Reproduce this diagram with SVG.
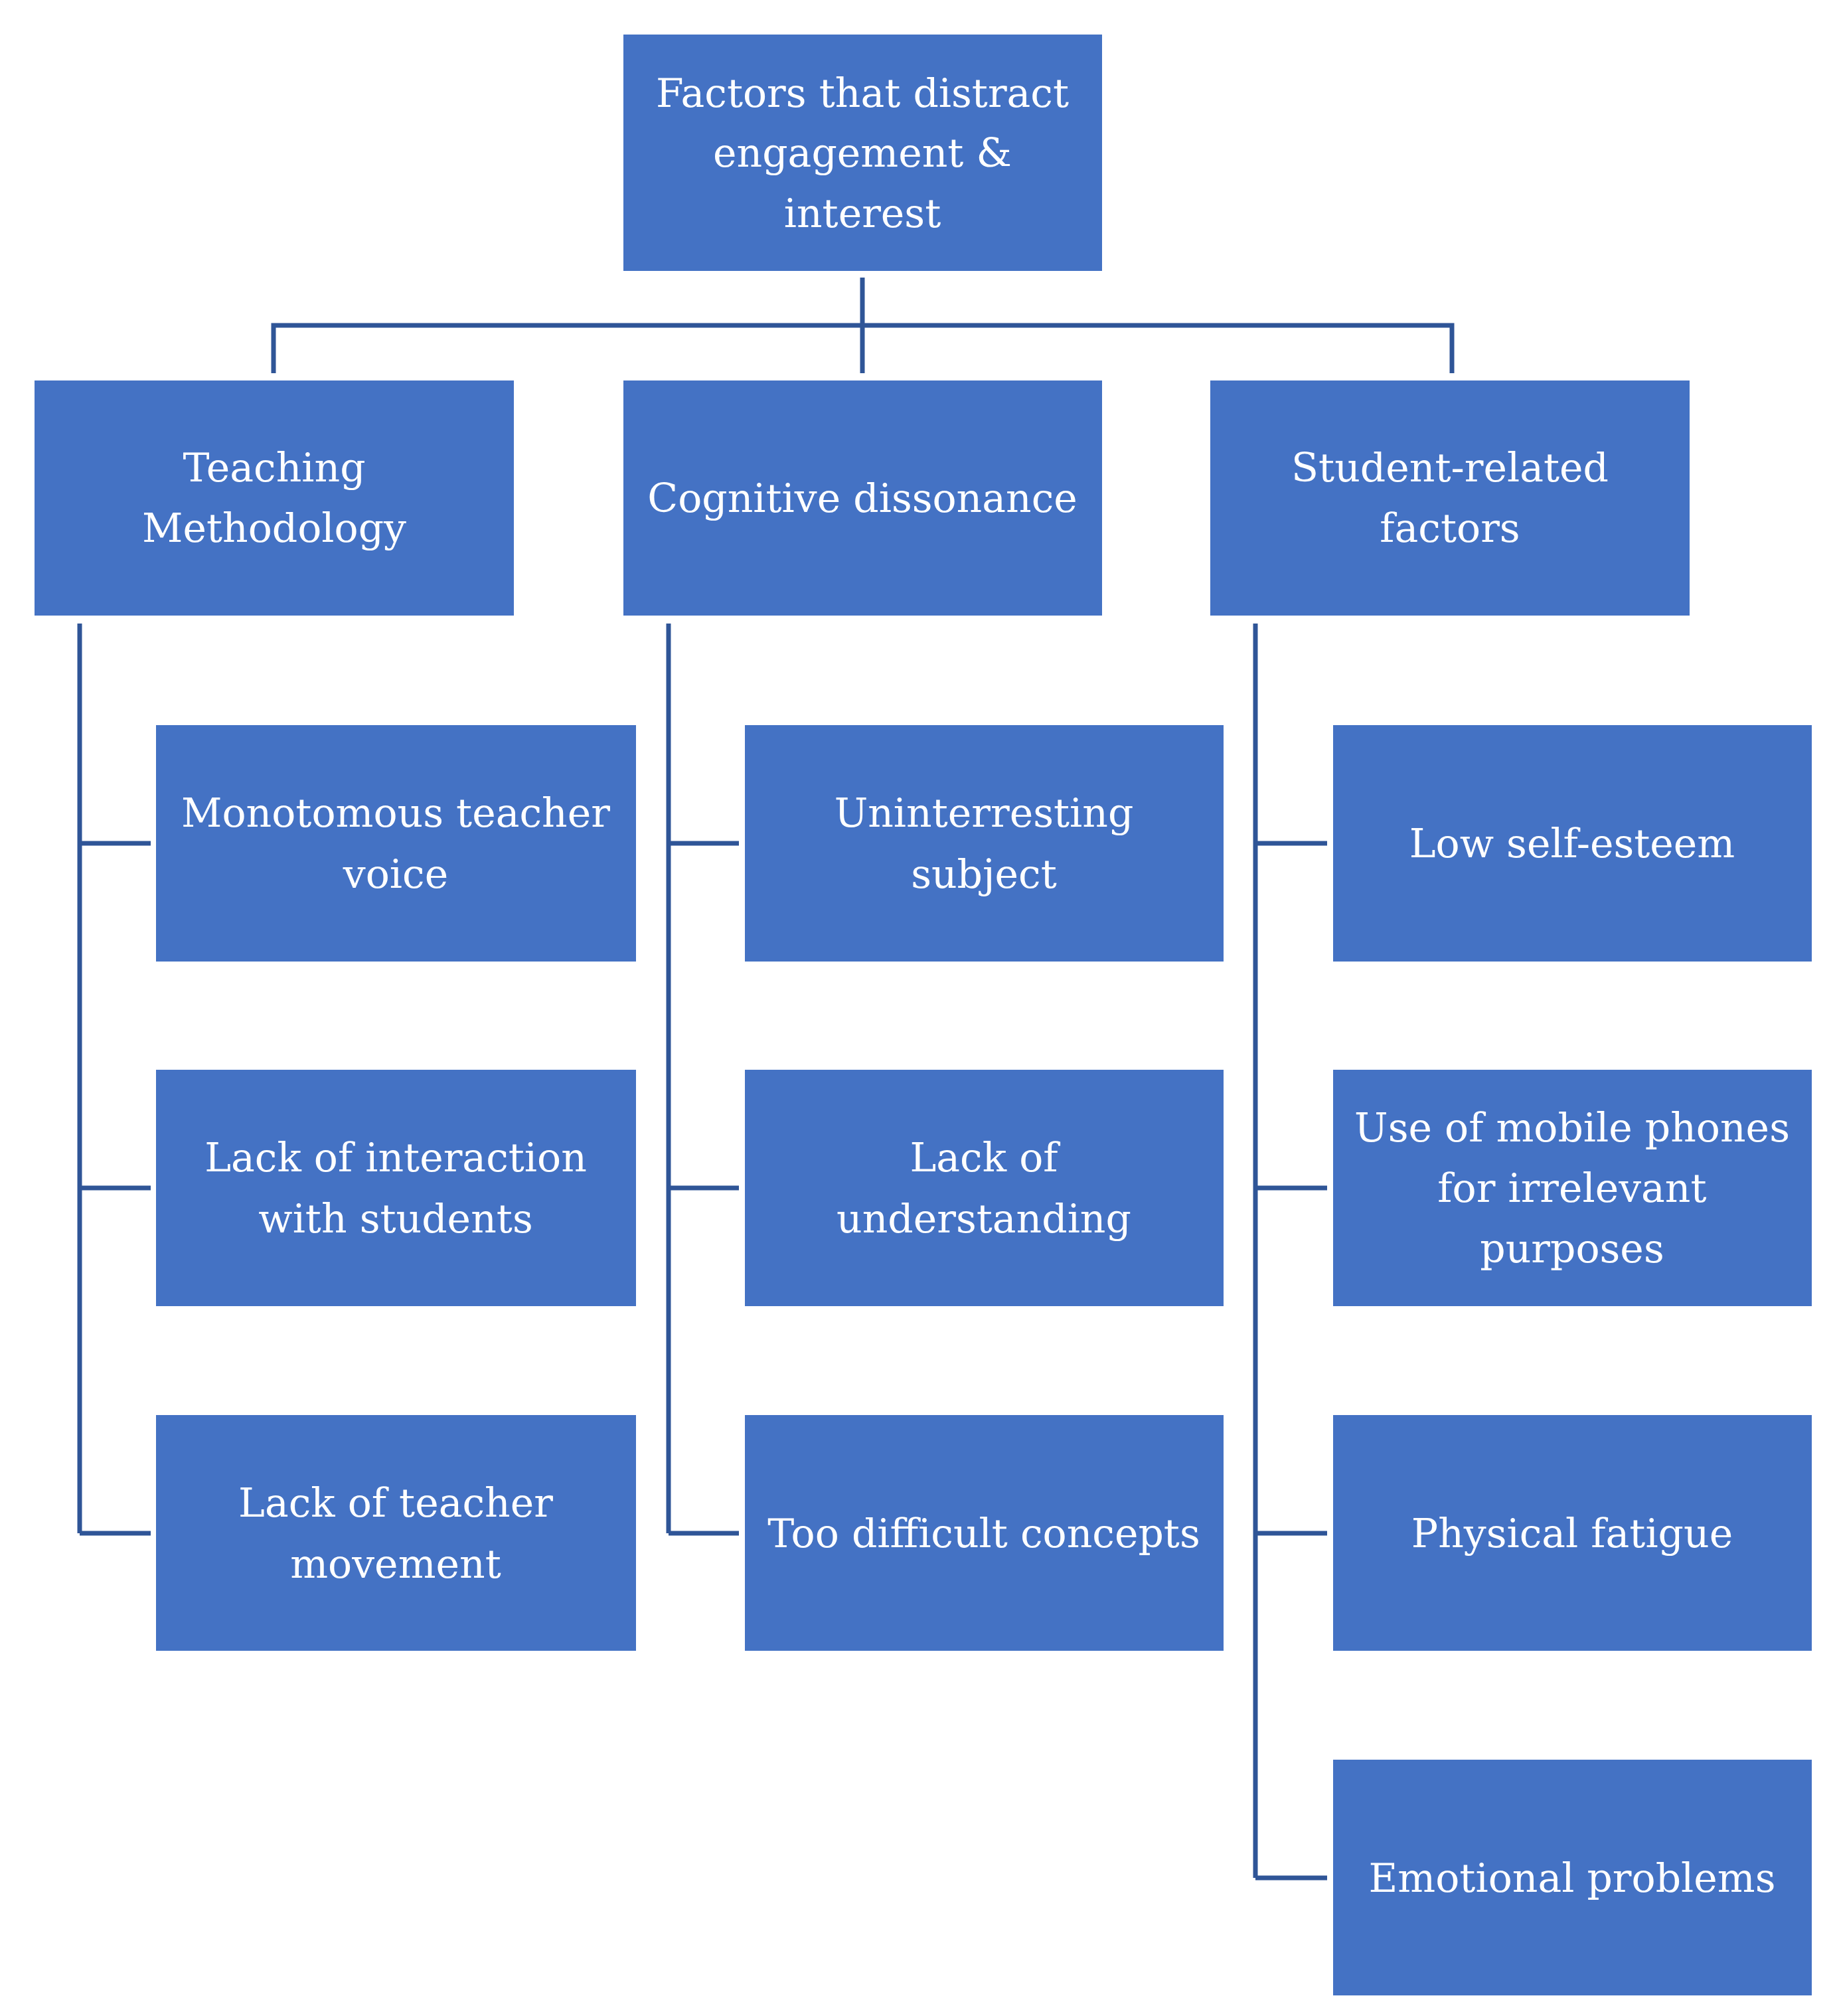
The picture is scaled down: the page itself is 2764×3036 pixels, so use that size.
<svg xmlns="http://www.w3.org/2000/svg" width="2764" height="3036" viewBox="0 0 2764 3036">
<style>
.b{fill:#4472C4}
.t{fill:#fff;font-family:"DejaVu Serif","Liberation Serif",serif;font-size:60px;text-anchor:middle;dominant-baseline:central}
.c{fill:none;stroke:#2F5597;stroke-width:7}
</style>
<rect width="2764" height="3036" fill="#fff"/>
<g id="connectors" class="c">
<path d="M1299 418V490M412 562V490H2187V562M1299 490V562"/>
<path d="M120 939V2309M120 1270H227M120 1789H227M120 2309H227"/>
<path d="M1007 939V2309M1007 1270H1113M1007 1789H1113M1007 2309H1113"/>
<path d="M1891 939V2828M1891 1270H1999M1891 1789H1999M1891 2309H1999M1891 2828H1999"/>
</g>
<g id="root"><rect class="b" x="939" y="52" width="721" height="356"/><text class="t" x="1299" y="140">Factors that distract</text><text class="t" x="1299" y="230">engagement &amp;</text><text class="t" x="1299" y="321">interest</text></g>
<g id="teaching"><rect class="b" x="52" y="573" width="722" height="354"/><text class="t" x="413" y="704">Teaching</text><text class="t" x="413" y="795">Methodology</text></g>
<g id="cognitive"><rect class="b" x="939" y="573" width="721" height="354"/><text class="t" x="1299" y="750">Cognitive dissonance</text></g>
<g id="student"><rect class="b" x="1823" y="573" width="722" height="354"/><text class="t" x="2184" y="704">Student-related</text><text class="t" x="2184" y="795">factors</text></g>
<g id="t1"><rect class="b" x="235" y="1092" width="723" height="356"/><text class="t" x="596" y="1224">Monotomous teacher</text><text class="t" x="596" y="1316">voice</text></g>
<g id="t2"><rect class="b" x="235" y="1611" width="723" height="356"/><text class="t" x="596" y="1743">Lack of interaction</text><text class="t" x="596" y="1835">with students</text></g>
<g id="t3"><rect class="b" x="235" y="2131" width="723" height="355"/><text class="t" x="596" y="2263">Lack of teacher</text><text class="t" x="596" y="2355">movement</text></g>
<g id="c1"><rect class="b" x="1122" y="1092" width="721" height="356"/><text class="t" x="1482" y="1224">Uninterresting</text><text class="t" x="1482" y="1316">subject</text></g>
<g id="c2"><rect class="b" x="1122" y="1611" width="721" height="356"/><text class="t" x="1482" y="1743">Lack of</text><text class="t" x="1482" y="1835">understanding</text></g>
<g id="c3"><rect class="b" x="1122" y="2131" width="721" height="355"/><text class="t" x="1482" y="2309">Too difficult concepts</text></g>
<g id="s1"><rect class="b" x="2008" y="1092" width="721" height="356"/><text class="t" x="2368" y="1270">Low self-esteem</text></g>
<g id="s2"><rect class="b" x="2008" y="1611" width="721" height="356"/><text class="t" x="2368" y="1698">Use of mobile phones</text><text class="t" x="2368" y="1789">for irrelevant</text><text class="t" x="2368" y="1880">purposes</text></g>
<g id="s3"><rect class="b" x="2008" y="2131" width="721" height="355"/><text class="t" x="2368" y="2309">Physical fatigue</text></g>
<g id="s4"><rect class="b" x="2008" y="2650" width="721" height="355"/><text class="t" x="2368" y="2828">Emotional problems</text></g>
</svg>
